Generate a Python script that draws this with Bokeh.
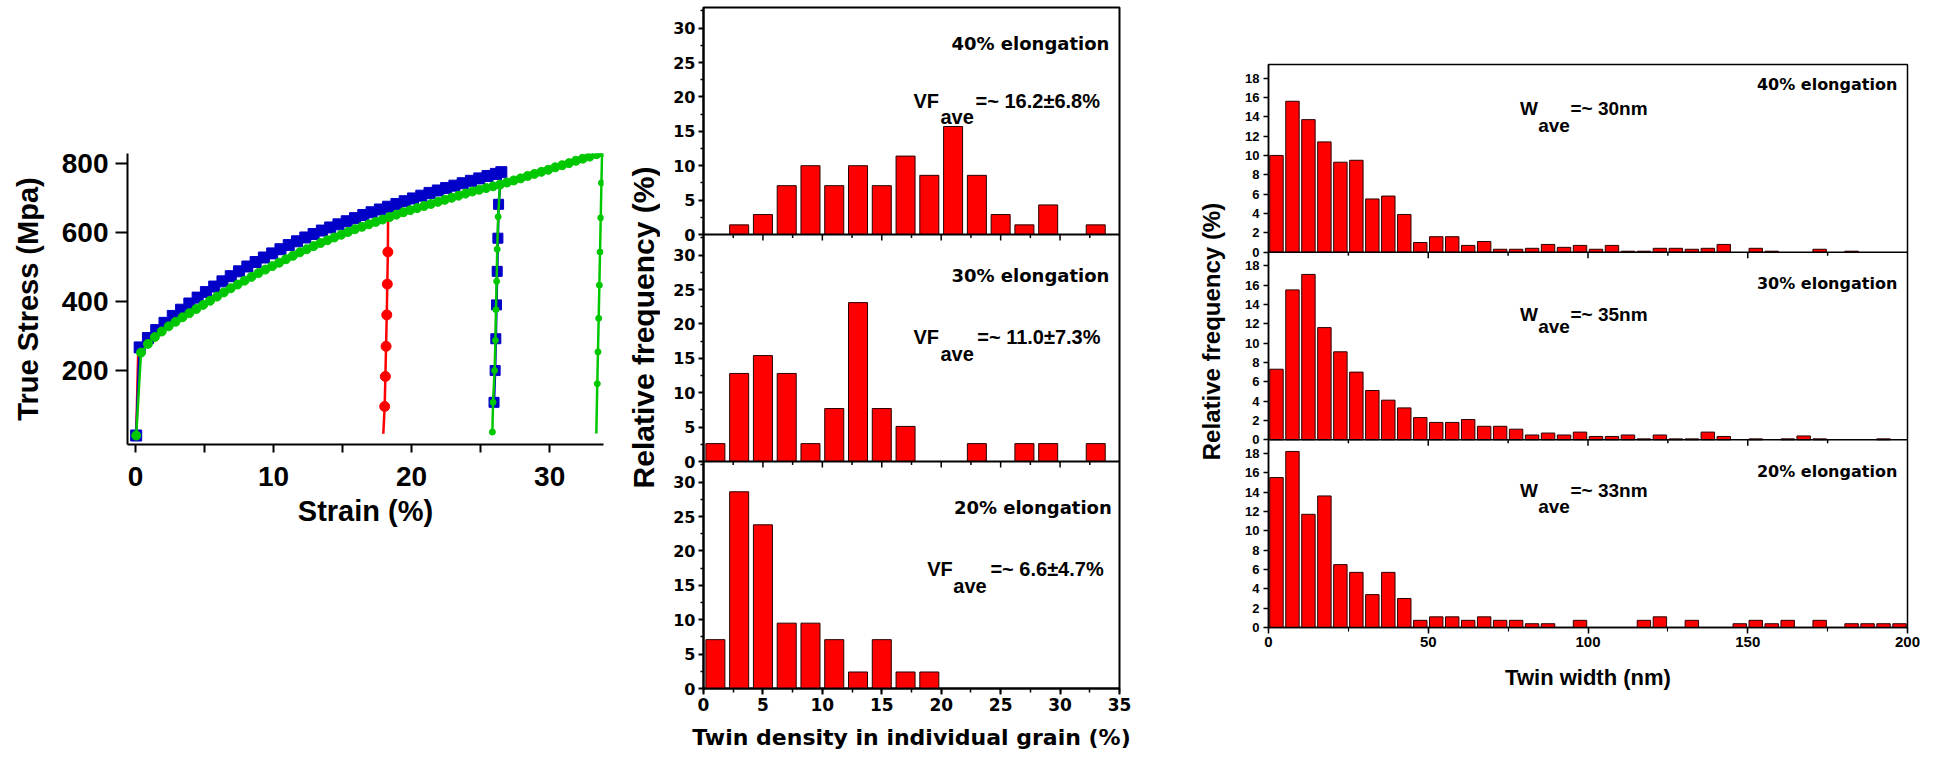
import math
from bokeh.plotting import figure
from bokeh.models import FixedTicker, SingleIntervalTicker, CustomJSTickFormatter, Span
from bokeh.layouts import row, column
from bokeh.embed import file_html
from bokeh.resources import INLINE
from bokeh.core.properties import value

# ---------------- data: stress-strain curves ----------------
blue_strain = [0.05, 0.3, 0.9, 1.5, 2.1, 2.7, 3.3, 3.9, 4.5, 5.1, 5.7, 6.3, 6.9, 7.5, 8.1, 8.7, 9.3, 9.9,
               10.5, 11.1, 11.7, 12.3, 12.9, 13.5, 14.1, 14.7, 15.3, 15.9, 16.5, 17.1, 17.7, 18.3, 18.9,
               19.5, 20.1, 20.7, 21.3, 21.9, 22.5, 23.1, 23.7, 24.3, 24.9, 25.5, 26.1, 26.5]
blue_stress = [12, 267, 294, 317, 338, 358, 376, 394, 411, 427, 443, 458, 473, 487, 501, 514, 527, 539,
               551, 563, 574, 585, 595, 605, 614, 623, 632, 641, 650, 658, 666, 674, 682,
               690, 698, 706, 714, 721, 728, 735, 742, 749, 756, 763, 769, 774]
blue_unload_strain = [26.5, 26.3, 26.25, 26.2, 26.15, 26.1, 26.05, 25.97]
blue_unload_stress = [774, 681, 583, 487, 390, 292, 200, 108]

green_strain = [0.05, 0.4, 0.9, 1.4, 1.9, 2.4, 2.9, 3.4, 3.9, 4.4, 4.9, 5.4, 5.9, 6.4, 6.9, 7.4, 7.9, 8.4,
                8.9, 9.4, 9.9, 10.4, 10.9, 11.4, 11.9, 12.4, 12.9, 13.4, 13.9, 14.4, 14.9, 15.4, 15.9, 16.4,
                16.9, 17.4, 17.9, 18.4, 18.9, 19.4, 19.9, 20.4, 20.9, 21.4, 21.9, 22.4, 22.9, 23.4, 23.9,
                24.4, 24.9, 25.4, 25.9, 26.4, 26.9, 27.4, 27.9, 28.4, 28.9, 29.4, 29.9, 30.4, 30.9, 31.4,
                31.9, 32.4, 32.9, 33.4, 33.8]
green_stress = [12, 252, 277, 297, 313, 328, 341, 354, 366, 378, 390, 402, 414, 426, 438, 449, 460, 471,
                482, 492, 502, 512, 522, 532, 542, 551, 560, 569, 577, 585, 593, 601, 609, 616,
                623, 630, 637, 644, 651, 658, 664, 670, 676, 682, 688, 694, 700, 706, 712,
                718, 723, 728, 733, 738, 744, 750, 756, 763, 769, 775, 781, 788, 794, 800,
                807, 813, 819, 826, 832]
green_unload26_strain = [26.4, 26.27, 26.2, 26.16, 26.11, 26.07, 26.01, 25.9, 25.85]
green_unload26_stress = [738, 645, 551, 458, 376, 287, 200, 108, 22]
green_unload34_strain = [33.8, 33.75, 33.7, 33.65, 33.6, 33.55, 33.5, 33.45, 33.38]
green_unload34_stress = [832, 743, 642, 543, 447, 351, 254, 162, 18]

red_strain = [0.05, 0.2, 1.0, 3.0, 6.0, 9.0, 12.0, 15.0, 18.3]
red_stress = [12, 262, 305, 372, 455, 520, 585, 635, 676]
red_unload_strain = [18.3, 18.28, 18.24, 18.2, 18.15, 18.1, 18.05, 17.95]
red_unload_stress = [676, 543, 450, 361, 270, 183, 96, 17]

# ---------------- data: twin density histograms ----------------
vf_bins = [1, 3, 5, 7, 9, 11, 13, 15, 17, 19, 21, 23, 25, 27, 29, 31, 33]
vf40 = [0, 1.4, 2.9, 7.1, 10.0, 7.1, 10.0, 7.1, 11.4, 8.6, 15.7, 8.6, 2.9, 1.4, 4.3, 0, 1.4]
vf30 = [2.6, 12.8, 15.4, 12.8, 2.6, 7.7, 23.1, 7.7, 5.1, 0, 0, 2.6, 0, 2.6, 2.6, 0, 2.6]
vf20 = [7.1, 28.6, 23.8, 9.5, 9.5, 7.1, 2.4, 7.1, 2.4, 2.4, 0, 0, 0, 0, 0, 0, 0]
vf_labels = ["40% elongation", "30% elongation", "20% elongation"]
vf_means = ["=~ 16.2±6.8%", "=~ 11.0±7.3%", "=~ 6.6±4.7%"]
vf_ticks = [0, 5, 10, 15, 20, 25, 30]

# ---------------- data: twin width histograms ----------------
w_bins = [2.5, 7.5, 12.5, 17.5, 22.5, 27.5, 32.5, 37.5, 42.5, 47.5, 52.5, 57.5, 62.5, 67.5, 72.5, 77.5,
          82.5, 87.5, 92.5, 97.5, 102.5, 107.5, 112.5, 117.5, 122.5, 127.5, 132.5, 137.5, 142.5, 147.5,
          152.5, 157.5, 162.5, 167.5, 172.5, 177.5, 182.5, 187.5, 192.5, 197.5]
w40 = [10.0, 15.6, 13.7, 11.4, 9.3, 9.5, 5.5, 5.8, 3.9, 1.0, 1.6, 1.6, 0.7, 1.1, 0.3, 0.3,
       0.4, 0.8, 0.5, 0.7, 0.3, 0.7, 0.1, 0.1, 0.4, 0.4, 0.3, 0.4, 0.8, 0,
       0.4, 0.1, 0, 0, 0.3, 0, 0.1, 0, 0, 0]
w30 = [7.3, 15.5, 17.1, 11.6, 9.1, 7.0, 5.1, 4.1, 3.3, 2.3, 1.8, 1.8, 2.1, 1.4, 1.4, 1.1,
       0.5, 0.7, 0.5, 0.8, 0.35, 0.35, 0.5, 0.1, 0.5, 0.1, 0.1, 0.8, 0.35, 0,
       0.1, 0, 0.1, 0.4, 0.1, 0, 0, 0, 0.1, 0]
w20 = [15.5, 18.2, 11.7, 13.6, 6.5, 5.7, 3.4, 5.7, 3.0, 0.74, 1.1, 1.1, 0.74, 1.1, 0.74, 0.74,
       0.39, 0.39, 0, 0.74, 0, 0, 0, 0.74, 1.1, 0, 0.74, 0, 0, 0.39,
       0.74, 0.39, 0.74, 0, 0.74, 0, 0.39, 0.39, 0.39, 0.39]
w_means = ["=~ 30nm", "=~ 35nm", "=~ 33nm"]
w_ticks = [0, 2, 4, 6, 8, 10, 12, 14, 16, 18]

SANS = "Liberation Sans"
DJV = "DejaVu Sans"
RED = "#ff0000"
BLUE = "#0000c8"
GREEN = "#00c800"


def style_axis(ax, font, tick_size, label_size, lw):
    ax.axis_line_color = "black"
    ax.axis_line_width = lw
    ax.major_tick_line_color = "black"
    ax.major_tick_line_width = lw
    ax.minor_tick_line_color = "black"
    ax.minor_tick_line_width = max(1, lw * 0.75)
    ax.major_tick_in = 0
    ax.minor_tick_in = 0
    ax.major_label_text_font = font
    ax.major_label_text_font_style = "bold"
    ax.major_label_text_font_size = tick_size
    ax.major_label_text_color = "black"
    ax.axis_label_text_font = font
    ax.axis_label_text_font_style = "bold"
    ax.axis_label_text_font_size = label_size
    ax.axis_label_text_color = "black"


def txt(p, x, y, s, font, size, style="bold", align="left", angle=0.0, baseline="alphabetic"):
    p.text(x=[x], y=[y], text=[s], text_font=value(font), text_font_size=size,
           text_font_style=style, text_align=align, text_baseline=baseline,
           angle=angle, text_color="black")


# ================= panel A: stress-strain =================
figA = figure(width=620, height=760, x_range=(-0.58, 33.9), y_range=(-14, 828),
              output_backend="svg", toolbar_location=None,
              min_border_left=127, min_border_right=17, min_border_top=153, min_border_bottom=316)
figA.grid.visible = False
figA.outline_line_color = None
figA.xaxis.ticker = FixedTicker(ticks=[0, 10, 20, 30], minor_ticks=[5, 15, 25])
figA.yaxis.ticker = FixedTicker(ticks=[200, 400, 600, 800], minor_ticks=[])
style_axis(figA.xaxis[0], SANS, "28px", "29px", 2)
style_axis(figA.yaxis[0], SANS, "28px", "29px", 2)
figA.xaxis.major_tick_out = 8
figA.xaxis.minor_tick_out = 8
figA.xaxis.minor_tick_line_width = 2
figA.yaxis.major_tick_out = 12
figA.xaxis.major_label_standoff = 14
figA.yaxis.major_label_standoff = 7
figA.xaxis.axis_label = "Strain (%)"
figA.yaxis.axis_label = "True Stress (Mpa)"
figA.xaxis.axis_label_standoff = 6
figA.yaxis.axis_label_standoff = 15

# red
figA.line(red_strain, red_stress, line_color=RED, line_width=2.5)
figA.line(red_unload_strain, red_unload_stress, line_color=RED, line_width=2.5)
figA.scatter(red_unload_strain[1:-1], red_unload_stress[1:-1], marker="circle", size=10,
             fill_color=RED, line_color=RED)
# blue
figA.line(blue_strain, blue_stress, line_color=BLUE, line_width=2.5)
figA.line(blue_unload_strain, blue_unload_stress, line_color=BLUE, line_width=2.5)
figA.scatter(blue_strain, blue_stress, marker="square", size=11, fill_color=BLUE, line_color=BLUE)
figA.scatter(blue_unload_strain[1:], blue_unload_stress[1:], marker="square", size=10,
             fill_color=BLUE, line_color=BLUE)
# green
figA.line(green_strain, green_stress, line_color=GREEN, line_width=2.5)
figA.scatter(green_strain, green_stress, marker="circle", size=9, fill_color=GREEN, line_color=GREEN)
figA.line(green_unload26_strain, green_unload26_stress, line_color=GREEN, line_width=2.5)
figA.scatter(green_unload26_strain[1:], green_unload26_stress[1:], marker="circle", size=6,
             fill_color=GREEN, line_color=GREEN)
figA.line(green_unload34_strain, green_unload34_stress, line_color=GREEN, line_width=2.5)
figA.scatter(green_unload34_strain[1:-1], green_unload34_stress[1:-1], marker="circle", size=6,
             fill_color=GREEN, line_color=GREEN)

# ================= strip with middle y label =================
stripB = figure(width=40, height=760, x_range=(0, 40), y_range=(0, 760), output_backend="svg",
                toolbar_location=None, min_border=0, x_axis_location=None, y_axis_location=None)
stripB.grid.visible = False
stripB.outline_line_color = None
txt(stripB, 23, 760 - 327, "Relative frequency (%)", SANS, "30px", align="center",
    angle=math.pi / 2, baseline="middle")

# ================= panel B: twin density =================
VF_SPAN = 33
vf_offsets = [66, 33, 0]
figB = figure(width=520, height=760, x_range=(0, 35), y_range=(0, 3 * VF_SPAN),
              output_backend="svg", toolbar_location=None,
              min_border_left=43, min_border_right=61, min_border_top=7, min_border_bottom=72)
figB.grid.visible = False
figB.outline_line_color = "black"
figB.outline_line_width = 2
figB.outline_line_alpha = 1
figB.xaxis.ticker = SingleIntervalTicker(interval=5, num_minor_ticks=2)
figB.yaxis.ticker = FixedTicker(
    ticks=[o + t for o in vf_offsets for t in vf_ticks],
    minor_ticks=[o + t + 2.5 for o in vf_offsets for t in vf_ticks])
figB.yaxis.formatter = CustomJSTickFormatter(
    code="const p = 33; const v = tick - p*Math.floor((tick + 0.001)/p); return String(Math.round(v));")
style_axis(figB.xaxis[0], DJV, "17px", "22px", 2)
style_axis(figB.yaxis[0], DJV, "16px", "16px", 2)
figB.xaxis.major_tick_out = 6
figB.xaxis.minor_tick_out = 4
figB.yaxis.major_tick_out = 5
figB.yaxis.minor_tick_out = 3
figB.xaxis.major_label_standoff = 3
figB.yaxis.major_label_standoff = 3
figB.xaxis.axis_label = "Twin density in individual grain (%)"
figB.xaxis.axis_label_standoff = 11

for off, vals in zip(vf_offsets, (vf40, vf30, vf20)):
    xs = [b for b, v in zip(vf_bins, vals) if v > 0]
    tops = [off + v for v in vals if v > 0]
    figB.vbar(x=xs, width=1.6, bottom=off, top=tops, fill_color=RED, line_color="#2a0000", line_width=1)

for off in vf_offsets[:2]:
    figB.add_layout(Span(location=off, dimension="width", line_color="black", line_width=2))
div_x = [2.5 * k for k in range(1, 14)]
for off in vf_offsets[:2]:
    figB.segment(x0=div_x, y0=off, x1=div_x,
                 y1=[off - (0.87 if k % 2 == 0 else 0.5) for k in range(1, 14)],
                 line_color="black", line_width=1.5)

vf_text_pos = [  # (elong_x, elong_y, vf_x, ave_x, rest_x, vf_y, ave_y)
    (34.15, 27.75, 17.67, 19.94, 22.89, 19.47, 17.04),
    (34.15, 27.03, 17.67, 19.94, 23.03, 18.06, 15.65),
    (34.35, 26.35, 18.82, 21.02, 24.14, 17.44, 14.97),
]
for off, lab, mean, pos in zip(vf_offsets, vf_labels, vf_means, vf_text_pos):
    ex, ey, vx, ax_, rx, vy, ay = pos
    txt(figB, ex, off + ey, lab, DJV, "18px", align="right")
    txt(figB, vx, off + vy, "VF", SANS, "20px")
    txt(figB, ax_, off + ay, "ave", SANS, "20px")
    txt(figB, rx, off + vy, mean, SANS, "20px")

# ================= strip with right y label =================
stripC = figure(width=46, height=760, x_range=(0, 46), y_range=(0, 760), output_backend="svg",
                toolbar_location=None, min_border=0, x_axis_location=None, y_axis_location=None)
stripC.grid.visible = False
stripC.outline_line_color = None
txt(stripC, 31, 760 - 331, "Relative frequency (%)", SANS, "24px", align="center",
    angle=math.pi / 2, baseline="middle")

# ================= panel C: twin width =================
W_SPAN = 19.4
w_offsets = [2 * W_SPAN, W_SPAN, 0]
figC = figure(width=714, height=760, x_range=(0, 200), y_range=(0, 3 * W_SPAN),
              output_backend="svg", toolbar_location=None,
              min_border_left=42, min_border_right=33, min_border_top=64, min_border_bottom=133)
figC.grid.visible = False
figC.outline_line_color = "black"
figC.outline_line_width = 1.5
figC.outline_line_alpha = 1
figC.xaxis.ticker = SingleIntervalTicker(interval=50, num_minor_ticks=2)
figC.yaxis.ticker = FixedTicker(ticks=[o + t for o in w_offsets for t in w_ticks], minor_ticks=[])
figC.yaxis.formatter = CustomJSTickFormatter(
    code="const p = 19.4; const v = tick - p*Math.floor((tick + 0.001)/p); return String(Math.round(v));")
style_axis(figC.xaxis[0], SANS, "15px", "22px", 1.5)
style_axis(figC.yaxis[0], SANS, "13px", "13px", 1.5)
figC.xaxis.major_tick_out = 6
figC.xaxis.minor_tick_out = 4
figC.yaxis.major_tick_out = 5
figC.xaxis.major_label_standoff = 3
figC.yaxis.major_label_standoff = 4
figC.xaxis.axis_label = "Twin width (nm)"
figC.xaxis.axis_label_standoff = 15

for off, vals in zip(w_offsets, (w40, w30, w20)):
    xs = [b for b, v in zip(w_bins, vals) if v > 0]
    tops = [off + v for v in vals if v > 0]
    figC.vbar(x=xs, width=4.2, bottom=off, top=tops, fill_color=RED, line_color="#2a0000", line_width=1)

for off in w_offsets[:2]:
    figC.add_layout(Span(location=off, dimension="width", line_color="black", line_width=1.5))
wdiv_x = [25 * k for k in range(1, 8)]
for off in w_offsets[:2]:
    figC.segment(x0=wdiv_x, y0=off, x1=wdiv_x,
                 y1=[off - (0.62 if k % 2 == 0 else 0.36) for k in range(1, 8)],
                 line_color="black", line_width=1.5)

w_text_pos = [  # (elong_y, w_y, ave_y)
    (17.3, 14.85, 13.1),
    (16.2, 13.0, 11.7),
    (16.1, 14.16, 12.5),
]
for off, lab, mean, pos in zip(w_offsets, vf_labels, w_means, w_text_pos):
    ey, wy, ay = pos
    txt(figC, 196.8, off + ey, lab, DJV, "16px", align="right")
    txt(figC, 78.7, off + wy, "W", SANS, "19px")
    txt(figC, 84.4, off + ay, "ave", SANS, "19px")
    txt(figC, 94.5, off + wy, mean, SANS, "19px")

# each figure wrapped in its own column so the row does not align their borders
layout = row(column(figA), column(stripB), column(figB), column(stripC), column(figC))
open("out.html", "w").write(file_html(layout, INLINE))
